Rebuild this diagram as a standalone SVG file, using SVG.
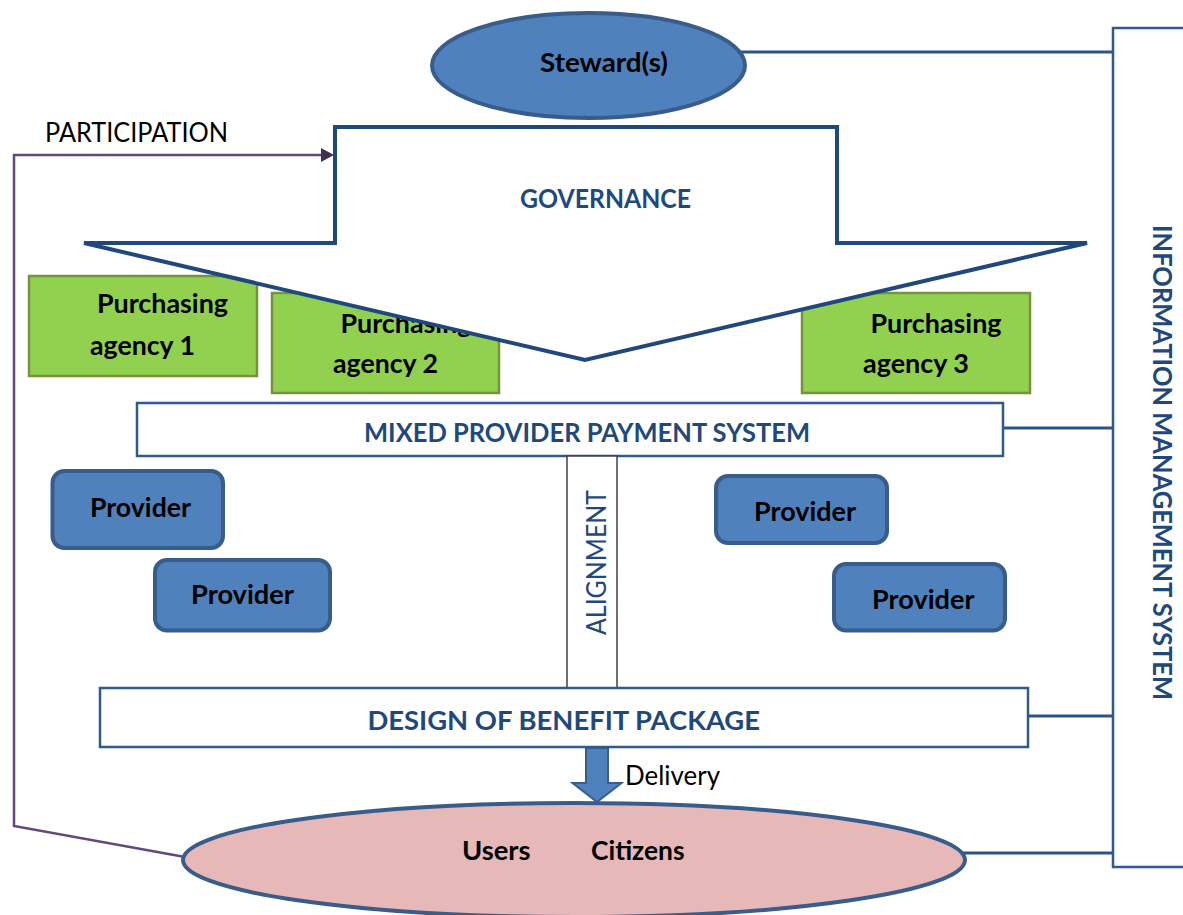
<svg xmlns="http://www.w3.org/2000/svg" width="1183" height="915" viewBox="0 0 1183 915">
  <style>
    text { font-family: Lato, "Open Sans", "Liberation Sans", sans-serif; }
    .bold { font-weight: 700; font-size: 26px; }
    .reg { font-weight: 400; font-size: 26px; }
    .dark { fill: #000000; }
    .navy { fill: #1F497D; }
    .link { fill: none; stroke: #2C5489; stroke-width: 3; }
    .blueNode { fill: #4F81BD; stroke: #385D8A; stroke-width: 4; }
    .agency { fill: #92D050; stroke: #77933C; stroke-width: 2.5; }
    .band { fill: #FFFFFF; stroke: #2F5A8E; stroke-width: 2.5; }
  </style>

  <!-- connectors -->
  <g id="connectors">
    <!-- steward to information system -->
    <line class="link" x1="740" y1="52" x2="1113" y2="52"/>
    <!-- payment system to information system -->
    <line class="link" x1="1003" y1="428" x2="1113" y2="428"/>
    <!-- benefit package to information system -->
    <line class="link" x1="1028" y1="716" x2="1113" y2="716"/>
    <!-- users to information system -->
    <line class="link" x1="960" y1="853" x2="1113" y2="853"/>
    <!-- participation loop from users back to governance -->
    <polyline points="185,857 14,826 14,155 322,155" fill="none" stroke="#604A7B" stroke-width="2.5"/>
    <polygon points="334,155 321,148 321,162" fill="#3F3151"/>
    <!-- delivery block arrow -->
    <polygon points="586,748 608,748 608,783 621.5,783 597,802 572.5,783 586,783" fill="#4F81BD" stroke="#385D8A" stroke-width="2"/>
    <text class="reg dark" x="625" y="785" textLength="95" lengthAdjust="spacingAndGlyphs">Delivery</text>
    <text class="reg dark" x="45" y="142" textLength="183" lengthAdjust="spacingAndGlyphs">PARTICIPATION</text>
  </g>

  <!-- information management system -->
  <g id="info-system">
    <path d="M1190,28 H1113 V867 H1190" fill="#FFFFFF" stroke="#2F5A8E" stroke-width="2.5"/>
    <text class="bold navy" transform="translate(1153,225) rotate(90)" textLength="475" lengthAdjust="spacingAndGlyphs">INFORMATION MANAGEMENT SYSTEM</text>
  </g>

  <!-- purchasing agencies -->
  <g id="agency-1">
    <rect class="agency" x="29" y="276" width="228" height="100"/>
    <text class="bold dark" x="97" y="313" textLength="131" lengthAdjust="spacingAndGlyphs">Purchasing</text>
    <text class="bold dark" x="90" y="355" textLength="105" lengthAdjust="spacingAndGlyphs">agency 1</text>
  </g>
  <g id="agency-2">
    <rect class="agency" x="272" y="293" width="227" height="100"/>
    <text class="bold dark" x="340.5" y="333" textLength="131" lengthAdjust="spacingAndGlyphs">Purchasing</text>
    <text class="bold dark" x="333" y="373" textLength="105" lengthAdjust="spacingAndGlyphs">agency 2</text>
  </g>
  <g id="agency-3">
    <rect class="agency" x="802" y="293" width="228" height="100"/>
    <text class="bold dark" x="870.5" y="333" textLength="131" lengthAdjust="spacingAndGlyphs">Purchasing</text>
    <text class="bold dark" x="863" y="373" textLength="106" lengthAdjust="spacingAndGlyphs">agency 3</text>
  </g>

  <!-- governance block arrow -->
  <g id="governance">
    <polygon points="335,127 837,127 837,243 1087,243 585,360 84,243 335,243" fill="#FFFFFF" stroke="#1F497D" stroke-width="4" stroke-linejoin="miter"/>
    <text class="bold navy" x="520" y="208" textLength="171" lengthAdjust="spacingAndGlyphs">GOVERNANCE</text>
  </g>

  <!-- steward -->
  <g id="steward">
    <ellipse class="blueNode" cx="588.5" cy="65.5" rx="156.5" ry="52.5" stroke-width="3.5"/>
    <text class="bold dark" x="540" y="72" textLength="128" lengthAdjust="spacingAndGlyphs">Steward(s)</text>
  </g>

  <!-- mixed provider payment system -->
  <g id="payment-system">
    <rect class="band" x="137" y="403" width="866" height="53"/>
    <text class="bold navy" x="364" y="441.5" textLength="446" lengthAdjust="spacingAndGlyphs">MIXED PROVIDER PAYMENT SYSTEM</text>
  </g>

  <!-- providers -->
  <g id="provider-1">
    <rect class="blueNode" x="52.5" y="471" width="170.5" height="77" rx="12"/>
    <text class="bold dark" x="90" y="516.5" textLength="101" lengthAdjust="spacingAndGlyphs">Provider</text>
  </g>
  <g id="provider-2">
    <rect class="blueNode" x="155" y="560" width="175" height="70.5" rx="12"/>
    <text class="bold dark" x="191" y="604" textLength="103" lengthAdjust="spacingAndGlyphs">Provider</text>
  </g>
  <g id="provider-3">
    <rect class="blueNode" x="716" y="476" width="171" height="67" rx="12"/>
    <text class="bold dark" x="754" y="521" textLength="102" lengthAdjust="spacingAndGlyphs">Provider</text>
  </g>
  <g id="provider-4">
    <rect class="blueNode" x="834" y="564" width="171" height="66.5" rx="12"/>
    <text class="bold dark" x="872" y="609" textLength="102.5" lengthAdjust="spacingAndGlyphs">Provider</text>
  </g>

  <!-- alignment -->
  <g id="alignment">
    <rect x="567" y="456" width="50" height="232" fill="#FFFFFF" stroke="#404040" stroke-width="1.5"/>
    <text class="reg navy" transform="translate(606,635) rotate(-90)" textLength="145" lengthAdjust="spacingAndGlyphs">ALIGNMENT</text>
  </g>

  <!-- benefit package -->
  <g id="benefit-package">
    <rect class="band" x="100" y="688" width="928" height="59"/>
    <text class="bold navy" x="367.5" y="730" textLength="392.5" lengthAdjust="spacingAndGlyphs">DESIGN OF BENEFIT PACKAGE</text>
  </g>

  <!-- users and citizens -->
  <g id="users">
    <ellipse cx="574" cy="860" rx="391" ry="57" fill="#E6B9B8" stroke="#385D8A" stroke-width="4"/>
    <text class="bold dark" x="462" y="860" textLength="68.5" lengthAdjust="spacingAndGlyphs">Users</text>
    <text class="bold dark" x="591" y="860" textLength="93.5" lengthAdjust="spacingAndGlyphs">Citizens</text>
  </g>
</svg>
